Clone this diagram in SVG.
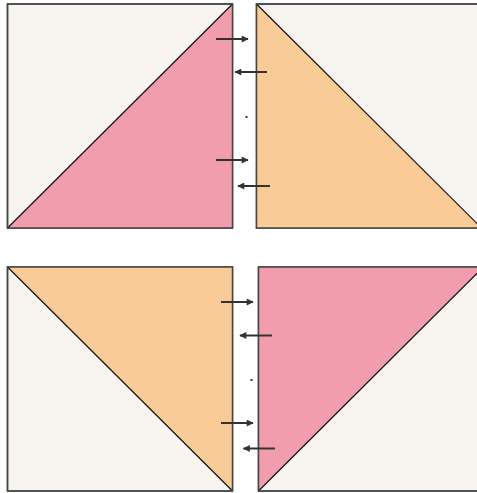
<svg xmlns="http://www.w3.org/2000/svg" width="477" height="493" viewBox="0 0 477 493">
<defs>
<style>
.sq{fill:#F8F5F0;stroke:#555;stroke-width:1.5}
.pink{fill:#F19DAE}
.orange{fill:#F9CB97}
.diag{stroke:#111;stroke-width:1.2;fill:none}
.edge{fill:none;stroke:#444;stroke-width:1.5}
.arr{stroke:#333;stroke-width:2;fill:none;marker-end:url(#ah)}
.dot{fill:#333}
</style>
<marker id="ah" viewBox="0 0 10 10" refX="9" refY="5" markerWidth="8" markerHeight="7" markerUnits="userSpaceOnUse" orient="auto">
<path d="M0,0 L10,5 L0,10 Z" fill="#333"/>
</marker>
</defs>
<rect width="477" height="493" fill="#fff"/>
<g id="tile-top-left">
<rect class="sq" x="7.5" y="4" width="225" height="224"/>
<polygon class="pink" points="7.5,228 232.5,4 232.5,228"/>
<line class="diag" x1="7.5" y1="228" x2="232.5" y2="4"/>
<rect class="edge" x="7.5" y="4" width="225" height="224"/>
</g>
<g id="tile-top-right">
<rect class="sq" x="256.5" y="4" width="225" height="224"/>
<polygon class="orange" points="256.5,4 256.5,228 481.5,228"/>
<line class="diag" x1="256.5" y1="4" x2="481.5" y2="228"/>
<rect class="edge" x="256.5" y="4" width="225" height="224"/>
</g>
<g id="tile-bottom-left">
<rect class="sq" x="7.5" y="267" width="225" height="224"/>
<polygon class="orange" points="7.5,267 232.5,267 232.5,491"/>
<line class="diag" x1="7.5" y1="267" x2="232.5" y2="491"/>
<rect class="edge" x="7.5" y="267" width="225" height="224"/>
</g>
<g id="tile-bottom-right">
<rect class="sq" x="258.5" y="267" width="225" height="224"/>
<polygon class="pink" points="258.5,267 483.5,267 258.5,491"/>
<line class="diag" x1="258.5" y1="491" x2="483.5" y2="267"/>
<rect class="edge" x="258.5" y="267" width="225" height="224"/>
</g>
<g id="connectors">
<line class="arr" x1="216" y1="39" x2="248" y2="39"/>
<line class="arr" x1="267" y1="72" x2="235" y2="72"/>
<line class="arr" x1="216" y1="160" x2="248" y2="160"/>
<line class="arr" x1="270" y1="186" x2="238" y2="186"/>
<line class="arr" x1="221" y1="302" x2="253" y2="302"/>
<line class="arr" x1="272" y1="335.5" x2="240" y2="335.5"/>
<line class="arr" x1="221" y1="423" x2="253" y2="423"/>
<line class="arr" x1="275" y1="448.5" x2="243.5" y2="448.5"/>
<rect class="dot" x="245.5" y="116" width="2" height="2"/>
<rect class="dot" x="250.5" y="379" width="2" height="2"/>
</g>
</svg>
